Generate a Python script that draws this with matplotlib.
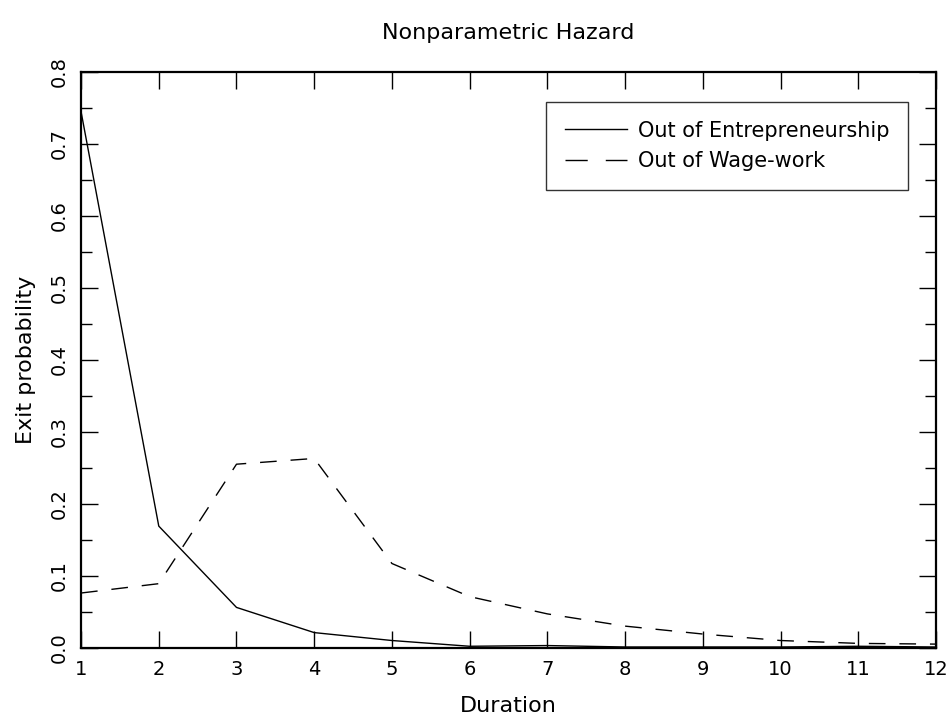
import matplotlib
matplotlib.use("Agg")
import matplotlib.pyplot as plt
from matplotlib.lines import Line2D
from matplotlib.ticker import MultipleLocator

# durations and hazards
duration = [1, 2, 3, 4, 5, 6, 7, 8, 9, 10, 11, 12]
entrepreneurship = [0.745, 0.169, 0.056, 0.021, 0.010, 0.002, 0.003, 0.001, 0.001, 0.001, 0.002, 0.001]
wage_work = [0.076, 0.089, 0.255, 0.263, 0.117, 0.071, 0.047, 0.030, 0.019, 0.010, 0.006, 0.005]
series_names = ['Out of Entrepreneurship', 'Out of Wage-work']
x_ticks = list(range(1, 13))
y_ticks = [0.0, 0.1, 0.2, 0.3, 0.4, 0.5, 0.6, 0.7, 0.8]
y_tick_labels = ['0.0', '0.1', '0.2', '0.3', '0.4', '0.5', '0.6', '0.7', '0.8']

plt.rcParams['font.family'] = ['DejaVu Sans']

fig = plt.figure(figsize=(9.49, 7.2), dpi=100)
ax = fig.add_axes([0.0854, 0.1004, 0.9009, 0.7996])

ax.plot(duration, entrepreneurship, color='black', lw=1.0)
ax.plot(duration, wage_work, color='black', lw=1.0, dashes=(12, 10))

ax.set_xlim(1, 12)
ax.set_ylim(0, 0.8)
ax.set_xticks(x_ticks)
ax.set_yticks(y_ticks)
ax.set_yticklabels(y_tick_labels, rotation=90, va='center')
ax.yaxis.set_minor_locator(MultipleLocator(0.05))

ax.tick_params(which='both', direction='in', top=True, right=True, labelsize=14,
               color='black', width=1.0)
ax.tick_params(which='major', length=12, pad=9)
ax.tick_params(which='minor', length=8)
for s in ax.spines.values():
    s.set_linewidth(1.6)

ax.set_xlabel('Duration', fontsize=16, labelpad=12)
ax.set_ylabel('Exit probability', fontsize=16, labelpad=10)
ax.set_title('Nonparametric Hazard', fontsize=16, pad=24)

# legend keys drawn like the original: two long dashes for the dashed one
handles = [Line2D([], [], color='black', lw=1.0),
           Line2D([], [], color='black', lw=1.0, dashes=(16, 13))]
leg = ax.legend(handles, series_names, loc='upper right', bbox_to_anchor=(0.967, 0.948),
                fontsize=15, frameon=True, fancybox=False, edgecolor='black',
                handlelength=3.0, handletextpad=0.5,
                borderpad=0.9, labelspacing=0.5, borderaxespad=0)
leg.get_frame().set_linewidth(1.0)

fig.savefig('out.png', dpi=100)
